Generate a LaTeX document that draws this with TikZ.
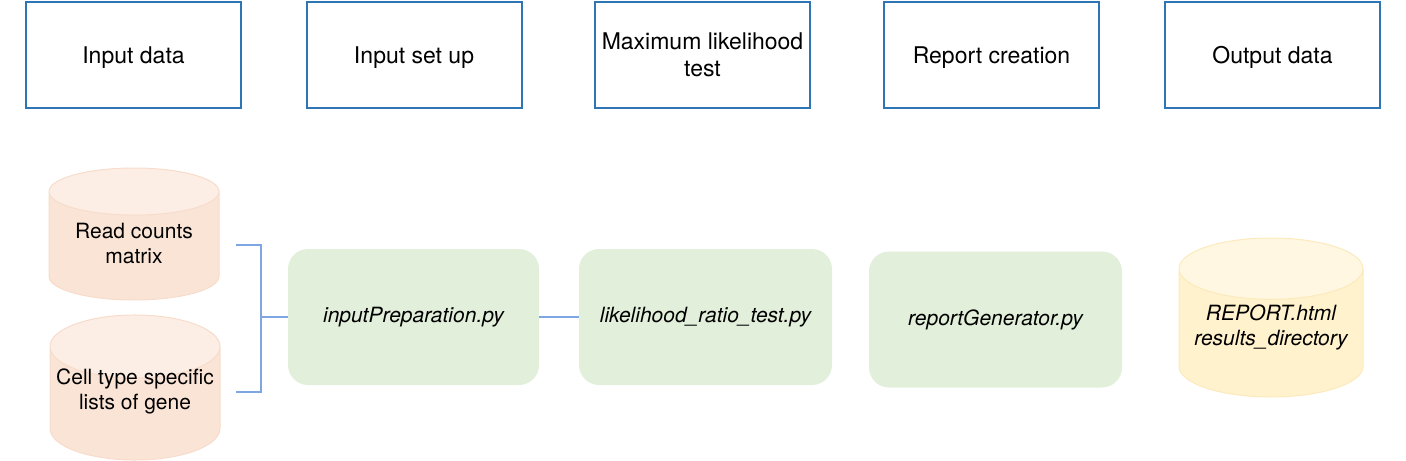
\documentclass[tikz,border=0pt]{standalone}
\usepackage{fontspec}
\setmainfont{TeX Gyre Heros}
\usetikzlibrary{shapes.geometric}
\definecolor{blued}{RGB}{46,117,182}
\definecolor{bluel}{RGB}{126,166,224}
\definecolor{greenl}{RGB}{226,239,218}
\definecolor{peachd}{RGB}{248,220,203}
\definecolor{peachm}{RGB}{250,228,214}
\definecolor{peachl}{RGB}{252,238,229}
\definecolor{yellowd}{RGB}{252,234,188}
\definecolor{yellowm}{RGB}{255,242,204}
\definecolor{yellowl}{RGB}{255,247,225}
\newcommand{\liftc}[2]{\raisebox{#1}[\height][\depth]{\begin{tabular}{@{}c@{}}#2\end{tabular}}}

\begin{document}
\begin{tikzpicture}[x=0.5pt,y=-0.5pt,
        font=\fontsize{10.5}{12.5}\selectfont,
        stage/.style={draw=blued,line width=1pt,minimum width=107.5pt,minimum height=53pt,inner sep=0pt,font=\fontsize{11.5}{13.5}\selectfont},
        script/.style={fill=greenl,rounded corners=10pt,minimum width=125.5pt,minimum height=68pt,inner sep=0pt,font=\fontsize{10.5}{12.5}\selectfont\itshape},
        store/.style={cylinder,shape border rotate=90,aspect=0.4,line width=0.5pt,cylinder uses custom fill,anchor=shape center,inner sep=0pt},
        link/.style={draw=bluel,line width=0.6pt}]
            \useasboundingbox (0,0) rectangle (1406,460);
            \foreach \x/\t/\n in {133.5/Input data/inData,414/Input set up/inSetup,702.5/{Maximum likelihood\\test}/mlTest,991.5/Report creation/repCreate,1272.5/Output data/outData}
                {\node[stage] (\n) at (\x,55) {\liftc{-1.5pt}{\t}};}
            \node[store,draw=peachd,cylinder body fill=peachm,cylinder end fill=peachl,minimum width=85pt,minimum height=66pt] (cnt) at (134,234) {\liftc{0pt}{Read counts\\matrix}};
            \node[store,draw=peachd,cylinder body fill=peachm,cylinder end fill=peachl,minimum width=85pt,minimum height=70pt] (gene) at (135,387.5) {\liftc{6pt}{Cell type specific\\lists of gene}};
            \node[store,draw=yellowd,cylinder body fill=yellowm,cylinder end fill=yellowl,minimum width=92pt,minimum height=79.5pt,font=\fontsize{10.5}{12.5}\selectfont\itshape] (out) at (1271,317.5) {\liftc{2.5pt}{REPORT.html\\results\_directory}};
            \node[script] (prep) at (413.5,317) {inputPreparation.py};
            \node[script,minimum width=126.5pt] (lrt) at (705.5,317) {likelihood\_ratio\_test.py};
            \node[script,minimum width=126.5pt] (rep) at (995.5,319.5) {reportGenerator.py};
            \coordinate (cntEnd) at (236,245);
            \coordinate (geneEnd) at (236,392);
            \draw[link] (cntEnd) -- ++(25,0) |- (prep.west);
            \draw[link] (geneEnd) -- ++(25,0) |- (prep.west);
            \draw[link] (prep.east) -- (lrt.west);
        \end{tikzpicture}
\end{document}
